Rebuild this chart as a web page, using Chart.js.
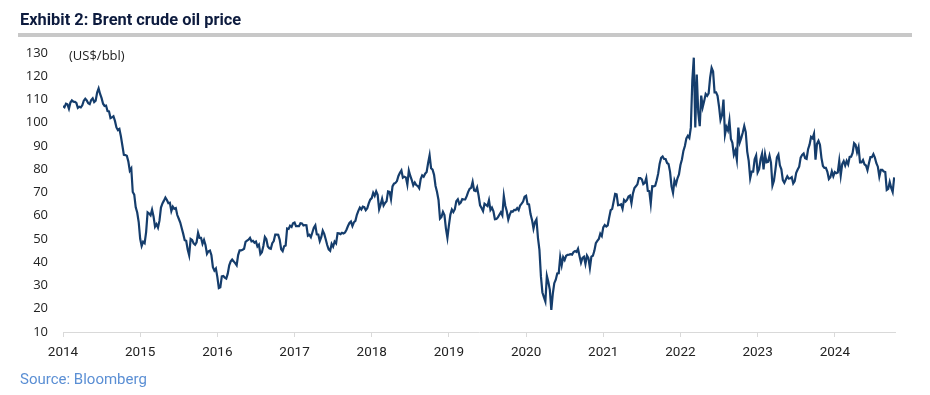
<!DOCTYPE html>
<html>
<head>
<meta charset="utf-8">
<script src="https://cdn.jsdelivr.net/npm/chart.js@4/dist/chart.umd.min.js"></script>
<style>
  html, body { margin: 0; padding: 0; background: #fff; }
  #wrap { position: relative; width: 930px; height: 395px; overflow: hidden; }
  #c { position: absolute; left: 0; top: 0; }
  .title { position: absolute; left: 20px; top: 10px; font: bold 16.4px Roboto, sans-serif; color: #0d1b3e; white-space: nowrap; }
  .rule { position: absolute; left: 18px; top: 33px; width: 894px; height: 4px; background: #c8c8c8; }
  .unit { position: absolute; left: 69px; top: 46px; font: 13px "Open Sans", sans-serif; color: #222; white-space: nowrap; }
  .source { position: absolute; left: 20px; top: 370px; font: 15px Roboto, sans-serif; color: #5b8fd4; white-space: nowrap; }
</style>
</head>
<body>
<div id="wrap">
  <canvas id="c" width="930" height="395"></canvas>
  <div class="title">Exhibit 2: Brent crude oil price</div>
  <div class="rule"></div>
  <div class="unit">(US$/bbl)</div>
  <div class="source">Source: Bloomberg</div>
</div>
<script>
// Weekly Brent closes (US$/bbl), one array per year
const brent2014 = [107.2,106.7,108.2,107.9, 106.0,108.7,109.6,109.1, 109.0,108.5,106.4,106.9, 106.6,107.5,109.5,110.3,109.6, 108.4,108.0,109.8,110.5, 108.9,109.5,113.0,114.8,112.4, 110.6,108.2,107.2,107.4, 105.0,104.9,102.0,102.3, 102.8,100.8,98.0,96.8,97.3, 94.2,90.2,86.2,86.1, 85.8,83.4,79.4,80.4,70.2, 69.1,63.6,61.4,57.3];
const brent2015 = [50.1,47.0,48.8,48.2, 53.0,61.5,61.0,60.2, 62.6,59.7,55.3,56.4, 54.9,57.9,63.5,65.3, 66.5,67.8,66.8,65.4,65.6, 62.0,63.9,63.0,63.3, 60.3,58.7,57.1,54.6,52.2, 49.5,49.2,45.5,43.0,50.0, 49.6,48.1,47.5,48.6, 52.7,50.5,50.5,47.9,49.6, 47.4,43.6,44.7,45.0, 43.0,37.9,36.4,37.3];
const brent2016 = [33.6,28.9,29.2,33.9, 34.1,33.4,33.0,35.1, 38.7,40.4,41.2,40.4,39.6, 38.7,43.1,45.1,45.1, 45.4,45.8,48.8,49.3,49.7, 50.5,49.0,49.2,48.4, 48.9,46.8,47.6,43.5, 44.3,47.0,50.9,49.9, 46.8,46.0,45.8,48.2,49.1, 51.9,51.9,51.8,49.7, 45.6,44.8,46.9,47.2,54.5, 54.3,55.7,55.2,56.8];
const brent2017 = [57.1,55.5,55.5,55.5, 56.8,56.7,55.8,56.0, 55.9,51.4,51.8,50.8,52.8, 54.9,55.9,52.0,51.9, 49.1,50.8,53.6,52.2, 49.9,47.4,45.5,44.9,47.9, 46.7,48.9,48.1,52.5, 52.4,52.1,52.7,52.4, 52.8,54.0,55.6,56.9,57.5, 55.6,57.2,57.8,60.4, 62.1,63.5,62.7,63.9,63.7, 62.4,63.2,65.3,66.9];
const brent2018 = [67.6,69.9,68.6,70.5, 69.0,62.8,64.8,67.3, 64.4,65.5,66.2,70.5,70.3, 67.1,72.6,73.8,74.1, 74.9,77.1,78.5,79.5,76.4, 76.8,76.5,73.4,79.4, 77.1,75.3,73.1,74.3, 73.2,72.8,71.8,75.8,77.4, 76.8,78.1,78.8,82.7, 86.0,80.4,79.8,77.6, 72.8,70.2,66.8,58.8,59.5, 61.7,60.3,54.5,50.5];
const brent2019 = [55.9,60.5,62.7,61.6, 62.8,66.3,67.1,65.1, 65.7,67.2,67.0,67.0,68.4, 70.3,71.6,72.0,74.6, 70.9,70.6,72.2,68.7,64.5, 63.3,62.0,65.2,64.7, 64.2,66.7,62.5,63.5, 61.9,58.5,58.6,59.3,60.4, 61.5,60.2,68.5,64.3,61.9, 58.4,60.5,61.9,61.7, 62.5,62.4,63.3,62.4, 64.4,65.2,66.1,68.2];
const brent2020 = [68.6,65.0,64.9,60.7,58.2, 54.5,57.3,58.5,50.5, 45.3,33.9,27.0,25.0,23.1, 34.1,31.5,28.1,19.5,26.4, 31.0,32.5,35.2,35.3, 42.3,38.7,42.2,41.0, 42.8,43.2,43.3,43.5,43.3, 44.4,44.8,44.4,45.8, 42.7,39.8,41.9,42.4, 39.3,42.9,41.8,37.5, 42.4,42.8,44.9,48.2, 49.2,50.0,52.3,51.3];
const brent2021 = [55.0,56.0,55.4,55.9, 59.3,62.4,62.9,66.1, 69.4,69.2,64.5,64.6, 64.9,63.0,66.8,66.1,66.8, 68.3,68.7,65.4,69.6, 71.9,72.7,73.5,76.2, 76.2,75.6,73.6,74.1,76.3, 70.7,70.6,65.2,72.7, 72.6,72.9,75.3,78.1, 82.4,84.9,85.5,84.4,84.4, 82.7,82.2,78.9,72.7, 69.9,75.2,73.5,76.1,77.8];
const brent2022 = [81.8,84.2,87.9,90.0, 93.3,94.4,93.5,97.9, 118.1,128.0,98.0,120.7, 104.4,98.5,111.7,106.7,109.3, 112.4,111.6,112.6,119.4, 123.6,122.0,113.1,113.1, 111.6,107.0,101.2,103.2,110.0, 94.9,98.2,96.7,101.0, 93.0,91.4,86.2,88.0,84.1, 97.9,91.6,93.5,95.8, 98.6,96.0,87.6,83.6, 76.1,79.0,79.0,84.3,85.9];
const brent2023 = [78.6,80.0,84.3,86.7, 79.9,86.4,83.0,83.2, 85.8,82.8,73.0,75.0,79.8, 85.1,86.3,81.7,80.0, 75.3,74.2,75.6,77.0,76.0, 76.1,76.6,73.9,74.9, 78.5,79.9,81.1,85.0, 86.2,86.8,84.8,84.5, 88.6,90.6,93.9,93.3,95.3, 84.1,90.9,92.2,90.5, 84.9,81.4,80.6,80.6, 78.9,75.8,76.6,79.1,77.0];
const brent2024 = [78.8,78.3,78.6,83.6, 77.3,82.2,83.5,81.6, 83.6,82.1,85.3,85.4,87.0, 91.2,90.5,87.3,89.5, 83.0,83.0,84.0,82.1,81.6, 79.6,82.6,85.2,85.2, 86.5,85.0,82.6,81.1, 76.8,79.7,79.7,79.0,78.8, 71.1,71.6,74.5,72.0, 70.2,76.5];

const years = [2014,2015,2016,2017,2018,2019,2020,2021,2022,2023,2024];
const seriesByYear = [brent2014,brent2015,brent2016,brent2017,brent2018,brent2019,brent2020,brent2021,brent2022,brent2023,brent2024];
const yTicks = [10,20,30,40,50,60,70,80,90,100,110,120,130];

const points = [];
seriesByYear.forEach((arr, k) => {
  arr.forEach((v, i) => points.push({ x: years[k] + i / 52, y: v }));
});

new Chart(document.getElementById('c'), {
  type: 'line',
  data: {
    datasets: [{
      data: points,
      borderColor: '#153d6c',
      borderWidth: 2.2,
      pointRadius: 0,
      tension: 0,
      fill: false
    }]
  },
  options: {
    responsive: false,
    animation: false,
    events: [],
    layout: { padding: { top: 53, right: 35, left: 0, bottom: 0 } },
    plugins: { legend: { display: false }, tooltip: { enabled: false } },
    scales: {
      x: {
        type: 'linear',
        min: 2014,
        max: 2024.78,
        afterFit: (s) => { s.height = 63; },
        afterBuildTicks: (s) => { s.ticks = years.map(y => ({ value: y })); },
        border: { display: true, color: '#d9d9d9', width: 1 },
        grid: { drawOnChartArea: false, drawTicks: true, tickLength: 5, color: '#d9d9d9' },
        ticks: {
          autoSkip: false,
          maxRotation: 0,
          padding: 8,
          color: '#222',
          font: { family: 'Roboto', size: 13.5 },
          callback: (v) => String(v)
        }
      },
      y: {
        min: 10,
        max: 130,
        afterFit: (s) => { s.width = 63; },
        afterBuildTicks: (s) => { s.ticks = yTicks.map(v => ({ value: v })); },
        border: { display: false },
        grid: { display: false, drawTicks: false },
        ticks: {
          padding: 15,
          color: '#222',
          font: { family: 'Open Sans', size: 13 }
        }
      }
    }
  }
});
</script>
</body>
</html>
